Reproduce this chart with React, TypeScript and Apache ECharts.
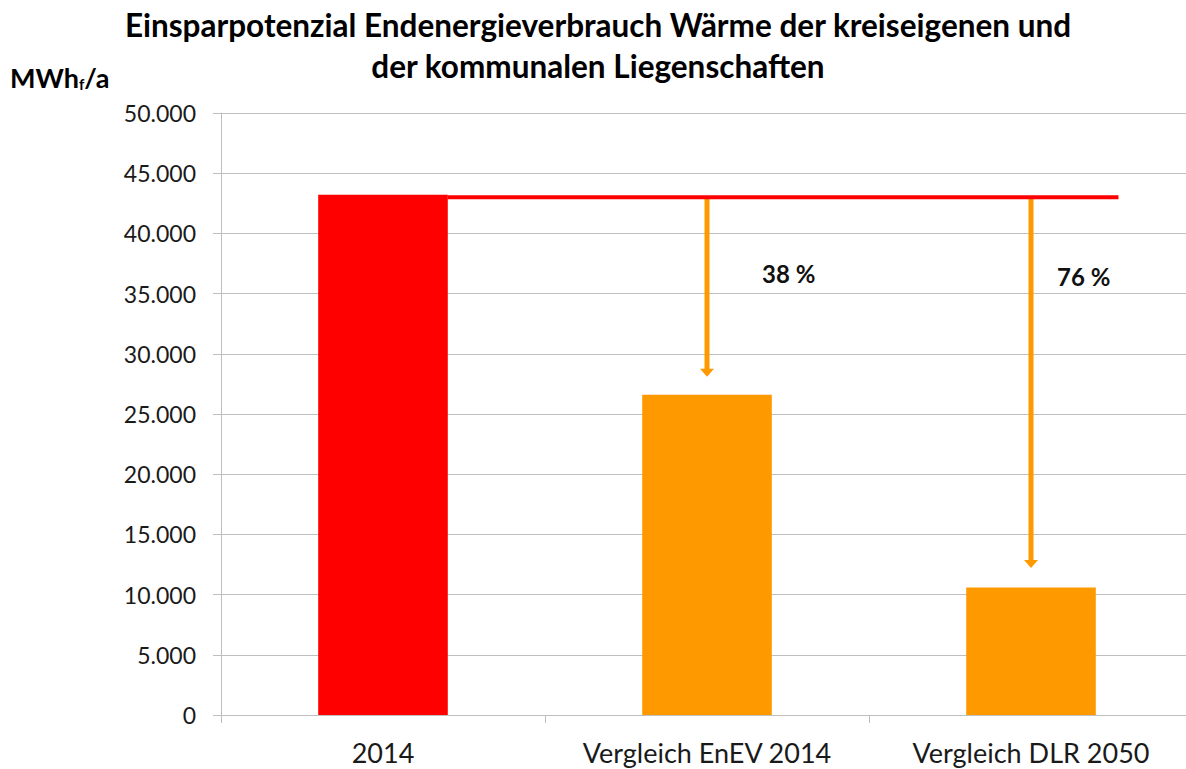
import React, { useEffect, useRef } from "react";
import * as echarts from "echarts";

const categories = ["2014", "Vergleich EnEV 2014", "Vergleich DLR 2050"];
const barValues = [43200, 26600, 10600];
const barColors = ["#FF0000", "#FF9900", "#FF9900"];
const referenceValue = 43000;
const arrowCategoryIndex = [1, 2];
const arrowTipValues = [28100, 12200];
const percentLabels = ["38 %", "76 %"];
const percentLabelValues = [36700, 36400];
const yTicks = { min: 0, max: 50000, interval: 5000 };

const labelOffsetX = [55, 26];
const FONT = "Lato, 'Open Sans', sans-serif";

function fmt(v: number): string {
  return String(v).replace(/\B(?=(\d{3})+(?!\d))/g, ".");
}

export default function App() {
  const ref = useRef<HTMLDivElement>(null);
  useEffect(() => {
    if (!ref.current) return;
    const chart = echarts.init(ref.current, null, { renderer: "svg" });
    const gray = "#BFBFBF";
    chart.setOption({
      animation: false,
      backgroundColor: "#ffffff",
      title: {
        text: "Einsparpotenzial Endenergieverbrauch Wärme der kreiseigenen und\nder kommunalen Liegenschaften",
        left: 598,
        textAlign: "center",
        top: 4,
        padding: 0,
        textStyle: {
          fontFamily: FONT,
          fontWeight: "bold",
          fontSize: 31.5,
          lineHeight: 41,
          color: "#000",
        },
      },
      graphic: [
        {
          type: "text",
          left: 10,
          top: 64,
          style: {
            text: "{a|MWh}{b|f}{a|/a}",
            rich: {
              a: { fontFamily: FONT, fontWeight: "bold", fontSize: 27, fill: "#000" },
              b: { fontFamily: FONT, fontWeight: "bold", fontSize: 15, fill: "#000", padding: [13, 0, 0, 0] },
            },
          },
        },
      ],
      grid: { left: 221, top: 113, right: 7, bottom: 54, containLabel: false },
      xAxis: {
        type: "category",
        data: categories,
        axisLine: { show: true, lineStyle: { color: gray, width: 1 } },
        axisTick: { show: true, length: 8, alignWithLabel: false, lineStyle: { color: gray } },
        axisLabel: { interval: 0, hideOverlap: false, margin: 24, fontFamily: FONT, fontSize: 27, color: "#1a1a1a" },
      },
      yAxis: {
        type: "value",
        min: yTicks.min,
        max: yTicks.max,
        interval: yTicks.interval,
        axisLine: { show: true, lineStyle: { color: gray, width: 1 } },
        axisTick: { show: true, length: 8, lineStyle: { color: gray } },
        axisLabel: {
          margin: 25,
          fontFamily: FONT,
          fontSize: 23,
          color: "#1a1a1a",
          formatter: (v: number) => fmt(v),
        },
        splitLine: { show: true, lineStyle: { color: gray, width: 1 } },
      },
      series: [
        {
          type: "bar",
          barWidth: "40%",
          data: barValues.map((v, i) => ({ value: v, itemStyle: { color: barColors[i] } })),
          z: 2,
        },
        {
          type: "custom",
          z: 4,
          data: arrowCategoryIndex.map((c, i) => [c, referenceValue, arrowTipValues[i], percentLabelValues[i]]),
          renderItem: (params: any, api: any) => {
            const i = params.dataIndex;
            const top = api.coord([api.value(0), api.value(1)]);
            const tip = api.coord([api.value(0), api.value(2)]);
            const lab = api.coord([api.value(0), api.value(3)]);
            const x = top[0];
            const headH = 8;
            const headW = 7;
            return {
              type: "group",
              children: [
                {
                  type: "line",
                  shape: { x1: x, y1: top[1], x2: x, y2: tip[1] - headH + 1 },
                  style: { stroke: "#FF9900", lineWidth: 5 },
                },
                {
                  type: "polygon",
                  shape: { points: [[x - headW, tip[1] - headH], [x + headW, tip[1] - headH], [x, tip[1]]] },
                  style: { fill: "#FF9900" },
                },
                {
                  type: "text",
                  x: x + labelOffsetX[i],
                  y: lab[1],
                  style: {
                    text: percentLabels[i],
                    fontFamily: FONT,
                    fontWeight: "bold",
                    fontSize: 24,
                    fill: "#111",
                    verticalAlign: "middle",
                    align: "left",
                  },
                },
              ],
            };
          },
        },
        {
          type: "custom",
          z: 5,
          data: [[0, referenceValue, 2]],
          renderItem: (params: any, api: any) => {
            const band = api.size([1, 0])[0];
            const start = api.coord([api.value(0), api.value(1)]);
            const end = api.coord([api.value(2), api.value(1)]);
            return {
              type: "line",
              shape: { x1: start[0] + band * 0.2, y1: start[1], x2: end[0] + band * 0.27, y2: start[1] },
              style: { stroke: "#FF0000", lineWidth: 4 },
            };
          },
        },
      ],
    });
    return () => chart.dispose();
  }, []);
  return (
    <div style={{ position: "absolute", left: 0, top: 0, width: 1186, height: 769, overflow: "hidden", background: "#fff" }}>
      <div ref={ref} style={{ width: 1200, height: 769 }} />
    </div>
  );
}
